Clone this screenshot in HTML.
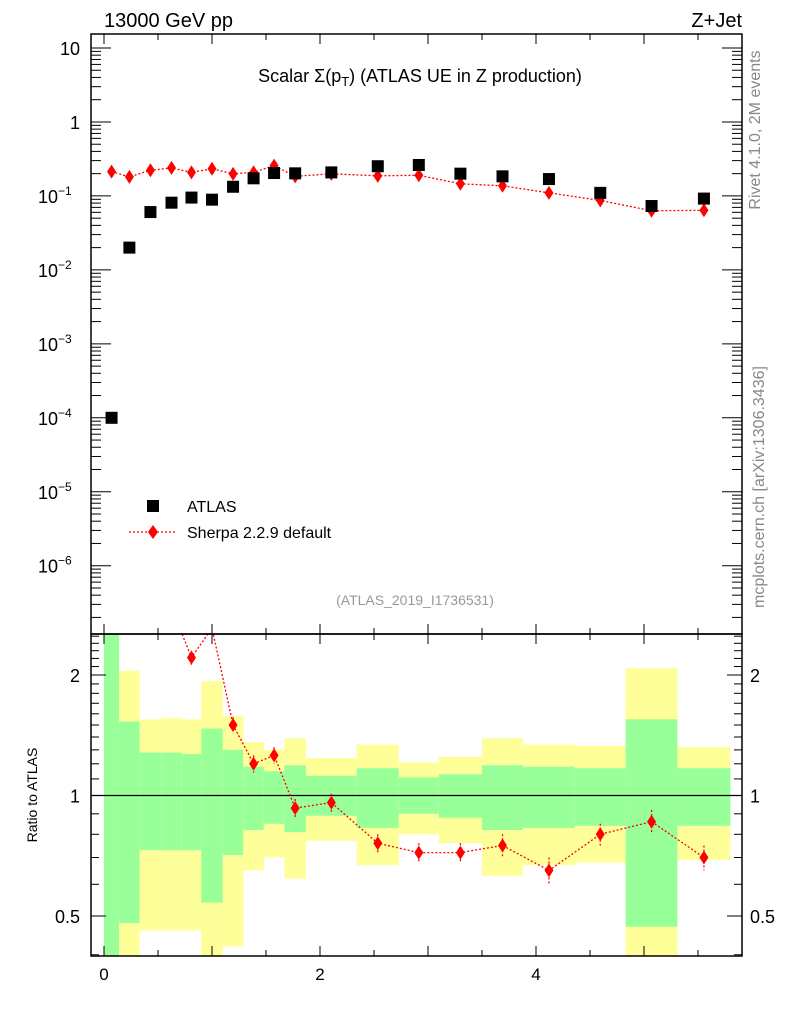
<!DOCTYPE html>
<html><head><meta charset="utf-8"><style>
html,body{margin:0;padding:0;background:#fff}
svg{display:block;font-family:"Liberation Sans",sans-serif}
</style></head><body>
<svg id="chart" width="786" height="1024" viewBox="0 0 786 1024" xmlns="http://www.w3.org/2000/svg">
<defs>
<clipPath id="cm"><rect x="91" y="34" width="651" height="600"/></clipPath>
<clipPath id="cr"><rect x="91" y="634" width="651" height="322"/></clipPath>
</defs>
<g id="bands" clip-path="url(#cr)"></g>
<g id="ratio" clip-path="url(#cr)"></g>
<g id="main" clip-path="url(#cm)"></g>
<g id="axes"></g>
<text x="104" y="27" font-size="20">13000 GeV pp</text>
<text x="742" y="27" font-size="20" text-anchor="end">Z+Jet</text>
<text x="420" y="82" font-size="18" text-anchor="middle">Scalar Σ(p<tspan font-size="13" dy="4">T</tspan><tspan dy="-4">)  (ATLAS UE in Z production)</tspan></text>
<text transform="translate(760,130) rotate(-90)" font-size="16" fill="#888" text-anchor="middle">Rivet 4.1.0,  2M events</text>
<text transform="translate(764,487) rotate(-90)" font-size="16" fill="#888" text-anchor="middle">mcplots.cern.ch [arXiv:1306.3436]</text>
<text x="415" y="605" font-size="14" fill="#999" text-anchor="middle">(ATLAS_2019_I1736531)</text>
<g>
<rect x="147" y="500" width="12" height="12" fill="#000"/>
<text x="187" y="512" font-size="16">ATLAS</text>
<line x1="129" y1="532" x2="175" y2="532" stroke="red" stroke-width="1.3" stroke-dasharray="2,2"/>
<path d="M153,525 L158,532 L153,539 L148,532Z" fill="red"/>
<text x="187" y="538" font-size="16">Sherpa 2.2.9 default</text>
</g>
<text transform="translate(37,795) rotate(-90)" font-size="14" text-anchor="middle">Ratio to ATLAS</text>
</svg>
<script>
const binEdges=[0,0.14,0.33,0.53,0.72,0.9,1.1,1.29,1.48,1.67,1.87,2.34,2.73,3.1,3.5,3.88,4.36,4.83,5.31,5.8];
const atlasValues=[1e-4,0.020,0.0605,0.081,0.095,0.089,0.133,0.173,0.204,0.202,0.208,0.252,0.262,0.20,0.184,0.169,0.11,0.073,0.092];
const sherpaValues=[0.213,0.181,0.222,0.239,0.208,0.233,0.199,0.208,0.257,0.184,0.199,0.187,0.19,0.146,0.137,0.11,0.087,0.063,0.064];
const ratioValues=[2130,9,3.7,2.95,2.21,2.62,1.50,1.20,1.26,0.93,0.96,0.76,0.72,0.72,0.75,0.65,0.80,0.86,0.70];
const ratioErr=[0.1,0.1,0.1,0.1,0.09,0.1,0.07,0.06,0.06,0.05,0.05,0.04,0.04,0.04,0.05,0.05,0.05,0.06,0.05];
const yellowUp=[3,2.05,1.55,1.56,1.55,1.93,1.58,1.36,1.30,1.39,1.24,1.34,1.21,1.25,1.39,1.34,1.33,2.08,1.32];
const greenUp=[3,1.53,1.28,1.28,1.27,1.47,1.30,1.18,1.15,1.19,1.12,1.17,1.11,1.13,1.19,1.18,1.17,1.55,1.17];
const greenDn=[0.3,0.48,0.73,0.73,0.73,0.54,0.71,0.82,0.85,0.81,0.89,0.83,0.90,0.88,0.82,0.83,0.84,0.47,0.84];
const yellowDn=[0.3,0.3,0.46,0.46,0.46,0.3,0.42,0.65,0.70,0.62,0.77,0.67,0.80,0.76,0.63,0.67,0.68,0.3,0.69];
const xTicks=[0,2,4];
const ratioTicks=[0.5,1,2];
const NS='http://www.w3.org/2000/svg';
const X=v=>104+108*v;
const Y=v=>48-73.96*(Math.log10(v)-1);
const R=v=>795.5-120.5*Math.log2(v);
function mk(t,a,p){const e=document.createElementNS(NS,t);for(const k in a)e.setAttribute(k,a[k]);p.appendChild(e);return e;}
const gB=document.getElementById('bands'),gR=document.getElementById('ratio'),gM=document.getElementById('main'),gA=document.getElementById('axes');
for(let i=0;i<atlasValues.length;i++){
 const x0=X(binEdges[i]),x1=X(binEdges[i+1]);
 let e=mk('rect',{x:x0,y:R(yellowUp[i]),width:x1-x0,height:R(yellowDn[i])-R(yellowUp[i]),fill:'#ffff99'},gB);
 
 
 e=mk('rect',{x:x0,y:R(greenUp[i]),width:x1-x0,height:R(greenDn[i])-R(greenUp[i]),fill:'#99ff99'},gB);
 
 
}
const ul=mk('line',{x1:91,x2:742,y1:R(1),y2:R(1),stroke:'#000','stroke-width':1.3},gB);


const cx=i=>X((binEdges[i]+binEdges[i+1])/2);
function series(g,vals,fy,err,name){
 let d='';vals.forEach((v,i)=>{d+=(i?'L':'M')+cx(i).toFixed(1)+','+fy(v).toFixed(1);});
 const p=mk('path',{d:d,fill:'none',stroke:'red','stroke-width':1.3,'stroke-dasharray':'2,2'},g);
 
 
 vals.forEach((v,i)=>{const x=cx(i),y=fy(v);
  if(err){const l=mk('line',{x1:x,x2:x,y1:fy(v+err[i]),y2:fy(Math.max(v-err[i],0.01)),stroke:'red','stroke-width':1.3,'stroke-dasharray':'2,2'},g);
   
   }
  const m=mk('path',{d:`M${x},${y-7}L${x+4.5},${y}L${x},${y+7}L${x-4.5},${y}Z`,fill:'red'},g);
  
  });
}
series(gM,sherpaValues,Y,null,'sherpa');
series(gR,ratioValues,R,ratioErr,'sherpa-ratio');
atlasValues.forEach((v,i)=>{const r=mk('rect',{x:cx(i)-6,y:Y(v)-6,width:12,height:12,fill:'#000'},gM);
 
 });
[[34,634],[634,956]].forEach(([t,b])=>{const f=mk('rect',{x:91,y:t,width:651,height:b-t,fill:'none',stroke:'#000','stroke-width':1.5},gA);
 
 });
function tick(x1,y1,x2,y2){mk('line',{x1:x1,y1:y1,x2:x2,y2:y2,stroke:'#000','stroke-width':1},gA);}
for(let k=0;k<=11;k++){const v=k*0.5,x=X(v),big=(k%2==0)?10:6;
 tick(x,34,x,34+big);tick(x,634,x,634-big);tick(x,634,x,634+big);tick(x,956,x,956-big);}
xTicks.forEach(v=>{const t=mk('text',{x:X(v),y:980,'font-size':17,'text-anchor':'middle'},gA);t.textContent=v;
 
 });
for(let d=-7;d<=1;d++){for(let k=1;k<10;k++){const v=k*Math.pow(10,d),y=Y(v);if(y<34||y>634)continue;
 const L=k==1?20:10;tick(91,y,91+L,y);tick(742,y,742-L,y);}}
const mainLabels=[[10,'10'],[1,'1'],[0.1,'−1'],[0.01,'−2'],[1e-3,'−3'],[1e-4,'−4'],[1e-5,'−5'],[1e-6,'−6']];
mainLabels.forEach(([v,s])=>{const t=mk('text',{x:80,y:Y(v)+7,'font-size':18,'text-anchor':'end'},gA);
 if(v>=1){t.textContent=s;}else{t.setAttribute('x',38);t.setAttribute('text-anchor','start');t.textContent='10';
  const sp=mk('tspan',{dy:-8,'font-size':12},t);sp.textContent=s;}
 
 });
for(let k=4;k<=26;k++){const v=k/10,y=R(v);if(y<634||y>956)continue;tick(91,y,99,y);tick(742,y,734,y);}
ratioTicks.forEach(v=>{const y=R(v);tick(91,y,106,y);tick(742,y,727,y);
 const a=mk('text',{x:80,y:y+7,'font-size':18,'text-anchor':'end'},gA);a.textContent=v;
 
 
 const b=mk('text',{x:750,y:y+7,'font-size':18},gA);b.textContent=v;
 
 });
</script>
</body></html>
